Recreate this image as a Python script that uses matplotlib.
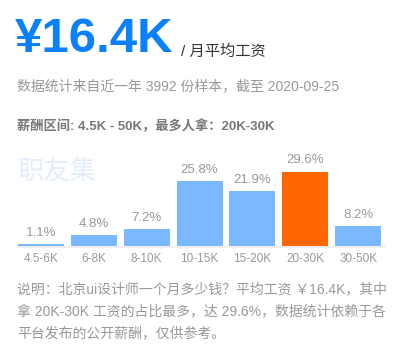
import matplotlib
matplotlib.use("Agg")
import matplotlib.pyplot as plt

categories = ["4.5-6K", "6-8K", "8-10K", "10-15K", "15-20K", "20-30K", "30-50K"]
values = [1.1, 4.8, 7.2, 25.8, 21.9, 29.6, 8.2]
highlight = "20-30K"

FONT = ['Liberation Sans', 'Noto Sans CJK SC', 'DejaVu Sans']
plt.rcParams['font.family'] = FONT

W, H = 409, 357
fig = plt.figure(figsize=(W / 100, H / 100), dpi=100)
fig.patch.set_facecolor('white')

def px(x, y):
    return x / W, 1 - y / H

# Header texts
fig.text(*px(15, 39), "¥16.4K", fontsize=35.5, fontweight='bold', color='#0b80fb',
         va='center', ha='left', family=FONT)
fig.text(*px(181, 52), "/ 月平均工资", fontsize=11, color='#333333',
         va='center', ha='left', family=FONT)
fig.text(*px(17, 86), "数据统计来自近一年 3992 份样本，截至 2020-09-25", fontsize=10,
         color='#999999', va='center', ha='left', family=FONT)
fig.text(*px(17, 126), "薪酬区间: 4.5K - 50K，最多人拿：20K-30K", fontsize=9.5,
         fontweight='bold', color='#777777', va='center', ha='left', family=FONT)
fig.text(*px(17, 171), "职友集", fontsize=19, color='#e4eefb',
         va='center', ha='left', family=FONT)

# Bar chart axes
left_px, right_px = 18, 384
base_px = 247
scale = 2.55  # px per percent
ax_h_px = 100
ax = fig.add_axes([left_px / W, (H - base_px) / H, (right_px - left_px) / W, ax_h_px / H])
ax.set_xlim(-0.435, 6.49)
ax.set_ylim(0, ax_h_px / scale)
colors = ['#ff6600' if c == highlight else '#7ab8ff' for c in categories]
x = list(range(len(categories)))
bars = ax.bar(x, values, width=0.87, color=colors, zorder=2)
for xi, v in zip(x, values):
    ax.annotate(f"{v}%", (xi, v), xytext=(0, 8), textcoords='offset points',
                ha='center', va='center', fontsize=9.5, color='#999999', family=FONT)
for s in ['top', 'right', 'left']:
    ax.spines[s].set_visible(False)
ax.spines['bottom'].set_color('#eeeeee')
ax.spines['bottom'].set_linewidth(1.5)
ax.set_yticks([])
ax.set_xticks(x)
ax.set_xticklabels(categories, fontsize=8.5, color='#999999')
ax.tick_params(axis='x', length=0, pad=4)
ax.patch.set_visible(False)

# Footer
footer = ["说明：北京ui设计师一个月多少钱？平均工资 ￥16.4K，其中",
          "拿 20K-30K 工资的占比最多，达 29.6%，数据统计依赖于各",
          "平台发布的公开薪酬，仅供参考。"]
for i, line in enumerate(footer):
    fig.text(*px(17, 289 + 22 * i), line, fontsize=10, color='#999999',
             va='center', ha='left', family=FONT)

fig.savefig("out.png", dpi=100, facecolor='white')
